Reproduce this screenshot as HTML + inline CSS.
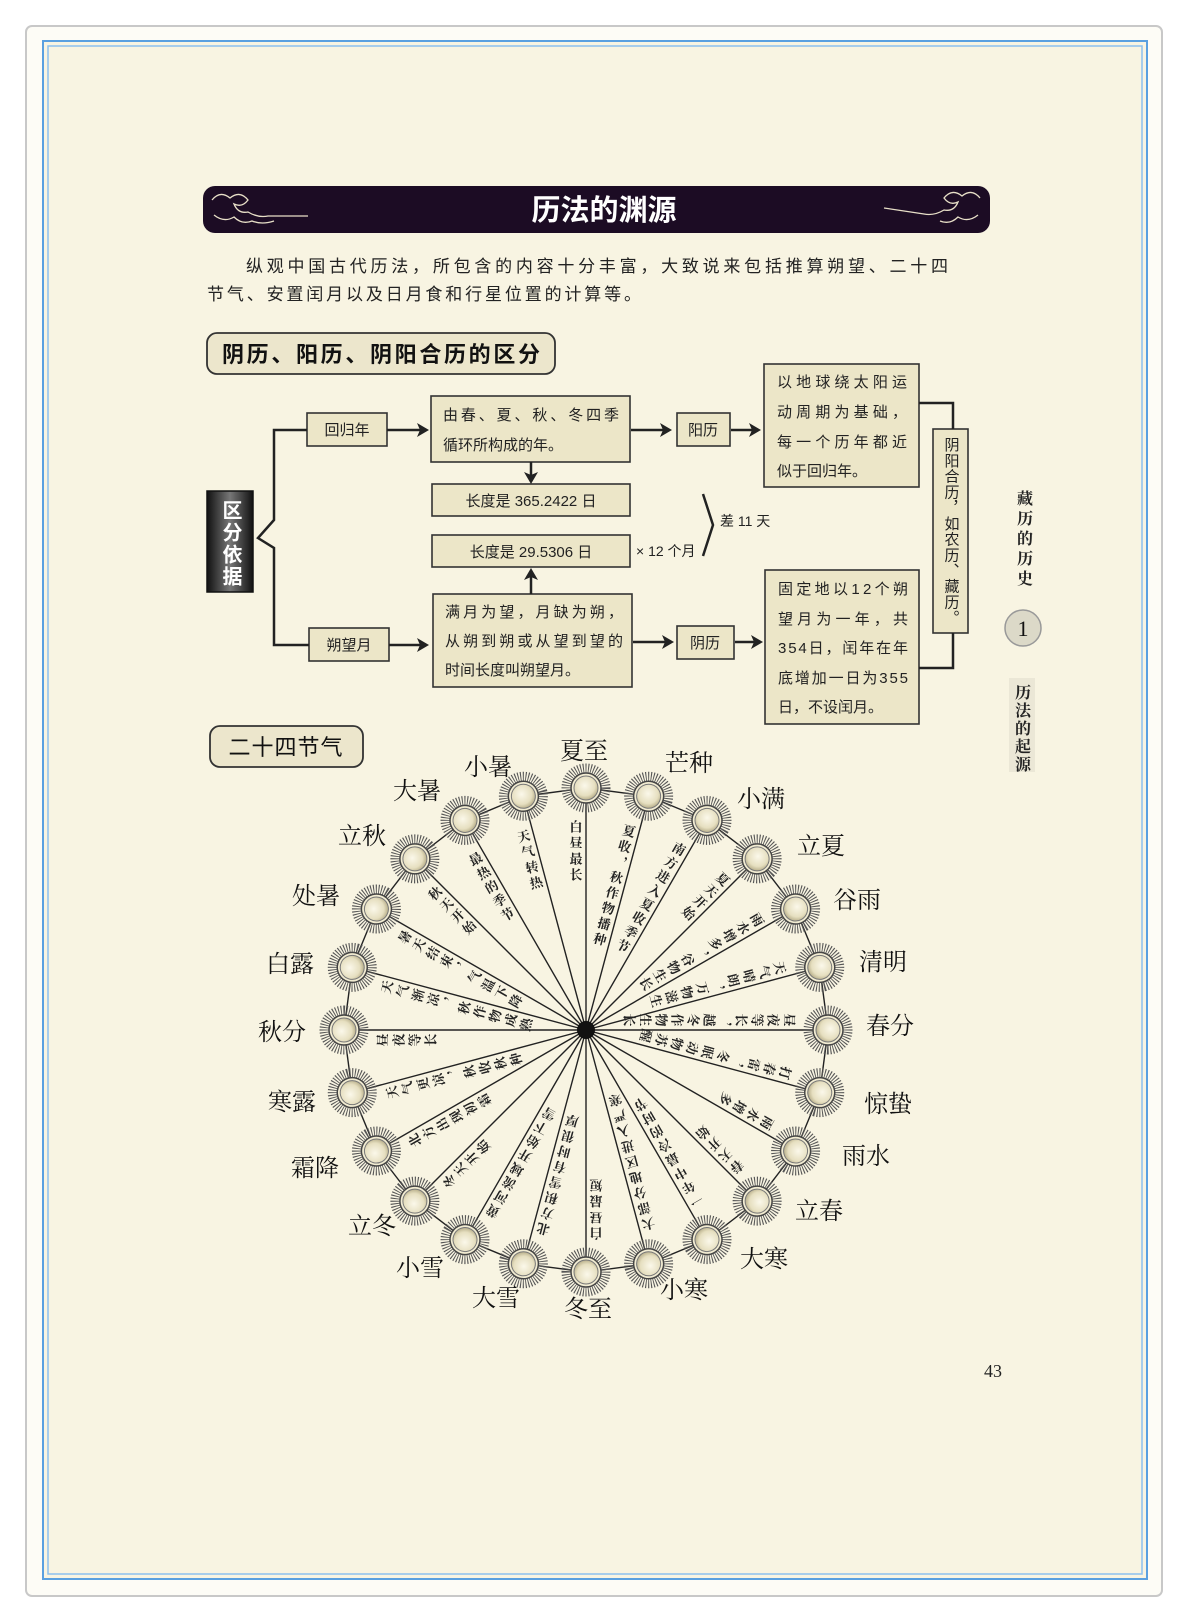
<!DOCTYPE html>
<html><head><meta charset="utf-8">
<style>
html,body{margin:0;padding:0;background:#fff;}
svg{display:block;}
.cj{font-family:"Liberation Sans","Noto Sans CJK SC",sans-serif;}
.sf{font-family:"Liberation Serif","Noto Serif CJK SC",serif;}
</style></head>
<body>
<svg width="1188" height="1620" viewBox="0 0 1188 1620" xmlns="http://www.w3.org/2000/svg">
<defs>
<radialGradient id="sg" cx="45%" cy="40%" r="60%">
<stop offset="0" stop-color="#fbf8ea"/><stop offset="0.7" stop-color="#e6dfc0"/><stop offset="1" stop-color="#b9b08c"/>
</radialGradient>
<linearGradient id="dk" x1="0" x2="1">
<stop offset="0" stop-color="#111"/><stop offset="0.5" stop-color="#777"/><stop offset="1" stop-color="#111"/>
</linearGradient>
<g id="sun">
<circle r="20" fill="none" stroke="#555" stroke-width="9" stroke-dasharray="1 1.6"/>
<circle r="15" fill="#f2ecd2" stroke="#444" stroke-width="1.5"/>
<circle r="12" fill="url(#sg)" stroke="#777" stroke-width="1"/>
</g>
</defs>
<rect width="1188" height="1620" fill="#fff"/>
<rect x="26" y="26" width="1136" height="1570" rx="6" fill="#fdfcf6" stroke="#c8c8c8" stroke-width="2"/>
<rect x="43" y="41" width="1104" height="1538" fill="#f8f4e2" stroke="#5aa0e0" stroke-width="2"/>
<rect x="48" y="46" width="1094" height="1528" fill="none" stroke="#8cc0ee" stroke-width="1.5"/>

<!-- banner -->
<rect x="203" y="186" width="787" height="47" rx="12" fill="#1c0c24"/>
<g fill="none" stroke="#e8e0c8" stroke-width="1.3">
<path d="M212 200 q8-10 18-2 q10-8 18 2 q-6 8 -14 4 q4 10 14 8 q10 6 20 4 l40 0"/>
<path d="M214 215 q10 8 20 2 q8 8 18 4 q10 4 22 0"/>
<path d="M980 198 q-8-10-18-2 q-10-8-18 2 q6 8 14 4 q-4 10-14 8 q-10 6-20 4 l-40-6"/>
<path d="M978 215 q-10 8-20 2 q-8 8-18 4"/>
</g>
<text x="604" y="220" text-anchor="middle" class="cj" font-size="29" font-weight="bold" fill="#fff">历法的渊源</text>

<!-- paragraph -->
<text x="246" y="272" class="cj" font-size="17" fill="#222" textLength="702" lengthAdjust="spacing">纵观中国古代历法，所包含的内容十分丰富，大致说来包括推算朔望、二十四</text>
<text x="207" y="300" class="cj" font-size="17" fill="#222" textLength="434" lengthAdjust="spacing">节气、安置闰月以及日月食和行星位置的计算等。</text>

<!-- section title -->
<rect x="207" y="333" width="348" height="41" rx="10" fill="#ece6cc" stroke="#333" stroke-width="1.8"/>
<text x="222" y="362" class="cj" font-size="22" font-weight="bold" fill="#111" textLength="318" lengthAdjust="spacing">阴历、阳历、阴阳合历的区分</text>

<!-- flowchart -->
<g fill="#ece6c8" stroke="#333" stroke-width="1.6">
<rect x="307" y="413" width="80" height="33"/>
<rect x="309" y="628" width="80" height="33"/>
<rect x="431" y="396" width="199" height="66"/>
<rect x="432" y="484" width="198" height="32"/>
<rect x="432" y="535" width="198" height="32"/>
<rect x="433" y="594" width="199" height="93"/>
<rect x="677" y="413" width="53" height="33"/>
<rect x="677" y="626" width="57" height="33"/>
<rect x="764" y="364" width="155" height="123"/>
<rect x="765" y="570" width="154" height="154"/>
<rect x="933" y="429" width="35" height="204"/>
</g>
<rect x="207" y="491" width="46" height="101" fill="url(#dk)" stroke="#111" stroke-width="1.5"/>
<text x="230" y="500" class="cj" font-size="20" font-weight="bold" fill="#fff" style="writing-mode:vertical-rl" letter-spacing="2">区分依据</text>

<g fill="none" stroke="#222" stroke-width="2.5">
<path d="M307 430 H274 V520 L258 538 L274 548 V645 H309"/>
<path d="M919 403 H953 V429 M919 668 H953 V633"/>
<path d="M703 494 L713 525 L703 556" stroke-width="2.5"/>
<path d="M387 430 H425 M631 430 H668 M731 430 H757 M389 645 H425 M633 642 H670 M735 642 H759"/>
<path d="M531 462 V480 M531 594 V572"/>
</g>
<g fill="#222">
<path d="M429 430 l-12 -7 l3 7 l-3 7z"/>
<path d="M672 430 l-12 -7 l3 7 l-3 7z"/>
<path d="M761 430 l-12 -7 l3 7 l-3 7z"/>
<path d="M429 645 l-12 -7 l3 7 l-3 7z"/>
<path d="M674 642 l-12 -7 l3 7 l-3 7z"/>
<path d="M763 642 l-12 -7 l3 7 l-3 7z"/>
<path d="M531 484 l-7 -12 l7 3 l7 -3z"/>
<path d="M531 568 l-7 12 l7 -3 l7 3z"/>
</g>

<g class="cj" font-size="15" fill="#222">
<text x="347" y="435" text-anchor="middle">回归年</text>
<text x="349" y="650" text-anchor="middle">朔望月</text>
<text x="443" y="420" textLength="176" lengthAdjust="spacing">由春、夏、秋、冬四季</text>
<text x="443" y="450">循环所构成的年。</text>
<text x="531" y="506" text-anchor="middle">长度是 365.2422 日</text>
<text x="531" y="557" text-anchor="middle">长度是 29.5306 日</text>
<text x="445" y="617" textLength="178" lengthAdjust="spacing">满月为望，月缺为朔，</text>
<text x="445" y="646" textLength="178" lengthAdjust="spacing">从朔到朔或从望到望的</text>
<text x="445" y="675">时间长度叫朔望月。</text>
<text x="703" y="435" text-anchor="middle">阳历</text>
<text x="705" y="648" text-anchor="middle">阴历</text>
<text x="777" y="387" textLength="130" lengthAdjust="spacing">以地球绕太阳运</text>
<text x="777" y="417" textLength="130" lengthAdjust="spacing">动周期为基础，</text>
<text x="777" y="447" textLength="130" lengthAdjust="spacing">每一个历年都近</text>
<text x="777" y="476">似于回归年。</text>
<text x="778" y="594" textLength="130" lengthAdjust="spacing">固定地以12个朔</text>
<text x="778" y="624" textLength="130" lengthAdjust="spacing">望月为一年，共</text>
<text x="778" y="653" textLength="130" lengthAdjust="spacing">354日，闰年在年</text>
<text x="778" y="683" textLength="130" lengthAdjust="spacing">底增加一日为355</text>
<text x="778" y="712">日，不设闰月。</text>
<text x="951" y="437" style="writing-mode:vertical-rl" textLength="188" lengthAdjust="spacing">阴阳合历，如农历、藏历。</text>
<text x="720" y="526" font-size="14">差 11 天</text>
<text x="636" y="556" font-size="14">× 12 个月</text>
</g>

<!-- side -->
<text x="1023" y="490" class="sf" font-size="16" font-weight="bold" fill="#222" style="writing-mode:vertical-rl" letter-spacing="4">藏历的历史</text>
<circle cx="1023" cy="628" r="18" fill="#dcd9c8" stroke="#999" stroke-width="1.5"/>
<text x="1023" y="636" text-anchor="middle" class="sf" font-size="22" fill="#111">1</text>
<rect x="1009" y="678" width="26" height="94" fill="#ebe7d6"/>
<text x="1021" y="684" class="sf" font-size="16" font-weight="bold" fill="#222" style="writing-mode:vertical-rl" letter-spacing="2">历法的起源</text>

<!-- 24 solar terms -->
<rect x="210" y="726" width="153" height="41" rx="10" fill="#ece6cc" stroke="#333" stroke-width="1.8"/>
<text x="286" y="755" text-anchor="middle" class="cj" font-size="22" fill="#111" letter-spacing="1">二十四节气</text>

<g stroke="#222" stroke-width="1.4">
<g transform="rotate(0 586 1030)"><line x1="586" y1="1030" x2="586" y2="788"/><line x1="586" y1="788" x2="648.6" y2="796.2"/></g>
<g transform="rotate(15 586 1030)"><line x1="586" y1="1030" x2="586" y2="788"/><line x1="586" y1="788" x2="648.6" y2="796.2"/></g>
<g transform="rotate(30 586 1030)"><line x1="586" y1="1030" x2="586" y2="788"/><line x1="586" y1="788" x2="648.6" y2="796.2"/></g>
<g transform="rotate(45 586 1030)"><line x1="586" y1="1030" x2="586" y2="788"/><line x1="586" y1="788" x2="648.6" y2="796.2"/></g>
<g transform="rotate(60 586 1030)"><line x1="586" y1="1030" x2="586" y2="788"/><line x1="586" y1="788" x2="648.6" y2="796.2"/></g>
<g transform="rotate(75 586 1030)"><line x1="586" y1="1030" x2="586" y2="788"/><line x1="586" y1="788" x2="648.6" y2="796.2"/></g>
<g transform="rotate(90 586 1030)"><line x1="586" y1="1030" x2="586" y2="788"/><line x1="586" y1="788" x2="648.6" y2="796.2"/></g>
<g transform="rotate(105 586 1030)"><line x1="586" y1="1030" x2="586" y2="788"/><line x1="586" y1="788" x2="648.6" y2="796.2"/></g>
<g transform="rotate(120 586 1030)"><line x1="586" y1="1030" x2="586" y2="788"/><line x1="586" y1="788" x2="648.6" y2="796.2"/></g>
<g transform="rotate(135 586 1030)"><line x1="586" y1="1030" x2="586" y2="788"/><line x1="586" y1="788" x2="648.6" y2="796.2"/></g>
<g transform="rotate(150 586 1030)"><line x1="586" y1="1030" x2="586" y2="788"/><line x1="586" y1="788" x2="648.6" y2="796.2"/></g>
<g transform="rotate(165 586 1030)"><line x1="586" y1="1030" x2="586" y2="788"/><line x1="586" y1="788" x2="648.6" y2="796.2"/></g>
<g transform="rotate(180 586 1030)"><line x1="586" y1="1030" x2="586" y2="788"/><line x1="586" y1="788" x2="648.6" y2="796.2"/></g>
<g transform="rotate(195 586 1030)"><line x1="586" y1="1030" x2="586" y2="788"/><line x1="586" y1="788" x2="648.6" y2="796.2"/></g>
<g transform="rotate(210 586 1030)"><line x1="586" y1="1030" x2="586" y2="788"/><line x1="586" y1="788" x2="648.6" y2="796.2"/></g>
<g transform="rotate(225 586 1030)"><line x1="586" y1="1030" x2="586" y2="788"/><line x1="586" y1="788" x2="648.6" y2="796.2"/></g>
<g transform="rotate(240 586 1030)"><line x1="586" y1="1030" x2="586" y2="788"/><line x1="586" y1="788" x2="648.6" y2="796.2"/></g>
<g transform="rotate(255 586 1030)"><line x1="586" y1="1030" x2="586" y2="788"/><line x1="586" y1="788" x2="648.6" y2="796.2"/></g>
<g transform="rotate(270 586 1030)"><line x1="586" y1="1030" x2="586" y2="788"/><line x1="586" y1="788" x2="648.6" y2="796.2"/></g>
<g transform="rotate(285 586 1030)"><line x1="586" y1="1030" x2="586" y2="788"/><line x1="586" y1="788" x2="648.6" y2="796.2"/></g>
<g transform="rotate(300 586 1030)"><line x1="586" y1="1030" x2="586" y2="788"/><line x1="586" y1="788" x2="648.6" y2="796.2"/></g>
<g transform="rotate(315 586 1030)"><line x1="586" y1="1030" x2="586" y2="788"/><line x1="586" y1="788" x2="648.6" y2="796.2"/></g>
<g transform="rotate(330 586 1030)"><line x1="586" y1="1030" x2="586" y2="788"/><line x1="586" y1="788" x2="648.6" y2="796.2"/></g>
<g transform="rotate(345 586 1030)"><line x1="586" y1="1030" x2="586" y2="788"/><line x1="586" y1="788" x2="648.6" y2="796.2"/></g>
</g>
<circle cx="586" cy="1030" r="9" fill="#111"/>

<g>
<use href="#sun" transform="rotate(0 586 1030) translate(586 788)"/>
<use href="#sun" transform="rotate(15 586 1030) translate(586 788)"/>
<use href="#sun" transform="rotate(30 586 1030) translate(586 788)"/>
<use href="#sun" transform="rotate(45 586 1030) translate(586 788)"/>
<use href="#sun" transform="rotate(60 586 1030) translate(586 788)"/>
<use href="#sun" transform="rotate(75 586 1030) translate(586 788)"/>
<use href="#sun" transform="rotate(90 586 1030) translate(586 788)"/>
<use href="#sun" transform="rotate(105 586 1030) translate(586 788)"/>
<use href="#sun" transform="rotate(120 586 1030) translate(586 788)"/>
<use href="#sun" transform="rotate(135 586 1030) translate(586 788)"/>
<use href="#sun" transform="rotate(150 586 1030) translate(586 788)"/>
<use href="#sun" transform="rotate(165 586 1030) translate(586 788)"/>
<use href="#sun" transform="rotate(180 586 1030) translate(586 788)"/>
<use href="#sun" transform="rotate(195 586 1030) translate(586 788)"/>
<use href="#sun" transform="rotate(210 586 1030) translate(586 788)"/>
<use href="#sun" transform="rotate(225 586 1030) translate(586 788)"/>
<use href="#sun" transform="rotate(240 586 1030) translate(586 788)"/>
<use href="#sun" transform="rotate(255 586 1030) translate(586 788)"/>
<use href="#sun" transform="rotate(270 586 1030) translate(586 788)"/>
<use href="#sun" transform="rotate(285 586 1030) translate(586 788)"/>
<use href="#sun" transform="rotate(300 586 1030) translate(586 788)"/>
<use href="#sun" transform="rotate(315 586 1030) translate(586 788)"/>
<use href="#sun" transform="rotate(330 586 1030) translate(586 788)"/>
<use href="#sun" transform="rotate(345 586 1030) translate(586 788)"/>
</g>

<g class="sf" font-size="13" font-weight="bold" fill="#222" style="writing-mode:vertical-rl" letter-spacing="3">
<text x="575" y="820" transform="rotate(0 586 1030)">白昼最长</text>
<text x="575" y="820" transform="rotate(15 586 1030)">夏收，秋作物播种</text>
<text x="575" y="820" transform="rotate(30 586 1030)">南方进入夏收季节</text>
<text x="575" y="820" transform="rotate(45 586 1030)">夏天开始</text>
<text x="575" y="820" transform="rotate(60 586 1030)">雨水增多，谷物生长</text>
<text x="575" y="820" transform="rotate(75 586 1030)">天气晴朗，万物滋生</text>
<text x="575" y="820" transform="rotate(90 586 1030)">昼夜等长，越冬作物生长</text>
<text x="575" y="820" transform="rotate(105 586 1030)">打春雷，冬眠动物苏醒</text>
<text x="575" y="820" transform="rotate(120 586 1030)">雨水增多</text>
<text x="575" y="820" transform="rotate(135 586 1030)">春天开始</text>
<text x="575" y="820" transform="rotate(150 586 1030)">一年中最冷的时节</text>
<text x="575" y="820" transform="rotate(165 586 1030)">大部分地区进入严寒</text>
<text x="575" y="820" transform="rotate(180 586 1030)">白昼最短</text>
<text x="575" y="820" transform="rotate(195 586 1030)">北方积雪有时很厚</text>
<text x="575" y="820" transform="rotate(210 586 1030)">黄河流域开始下雪</text>
<text x="575" y="820" transform="rotate(225 586 1030)">冬天开始</text>
<text x="575" y="820" transform="rotate(240 586 1030)">北方出现初霜</text>
<text x="575" y="820" transform="rotate(255 586 1030)">天气更凉，秋收秋种</text>
<text x="575" y="820" transform="rotate(270 586 1030)">昼夜等长</text>
<text x="575" y="820" transform="rotate(285 586 1030)">天气渐凉，秋作物成熟</text>
<text x="575" y="820" transform="rotate(300 586 1030)">暑天结束，气温下降</text>
<text x="575" y="820" transform="rotate(315 586 1030)">秋天开始</text>
<text x="575" y="820" transform="rotate(330 586 1030)">最热的季节</text>
<text x="575" y="820" transform="rotate(345 586 1030)">天气转热</text>
</g>

<g class="sf" font-size="24" fill="#111" text-anchor="middle" dominant-baseline="central">
<text x="584" y="752">夏至</text>
<text x="689" y="764">芒种</text>
<text x="761" y="800">小满</text>
<text x="821" y="847">立夏</text>
<text x="857" y="901">谷雨</text>
<text x="883" y="963">清明</text>
<text x="890" y="1027">春分</text>
<text x="888" y="1105">惊蛰</text>
<text x="866" y="1157">雨水</text>
<text x="819" y="1212">立春</text>
<text x="764" y="1260">大寒</text>
<text x="684" y="1291">小寒</text>
<text x="588" y="1310">冬至</text>
<text x="496" y="1299">大雪</text>
<text x="420" y="1269">小雪</text>
<text x="372" y="1227">立冬</text>
<text x="315" y="1169">霜降</text>
<text x="292" y="1103">寒露</text>
<text x="282" y="1033">秋分</text>
<text x="290" y="965">白露</text>
<text x="316" y="897">处暑</text>
<text x="362" y="837">立秋</text>
<text x="417" y="792">大暑</text>
<text x="488" y="768">小暑</text>
</g>

<text x="993" y="1377" text-anchor="middle" class="sf" font-size="18" fill="#222">43</text>
</svg>
</body></html>
